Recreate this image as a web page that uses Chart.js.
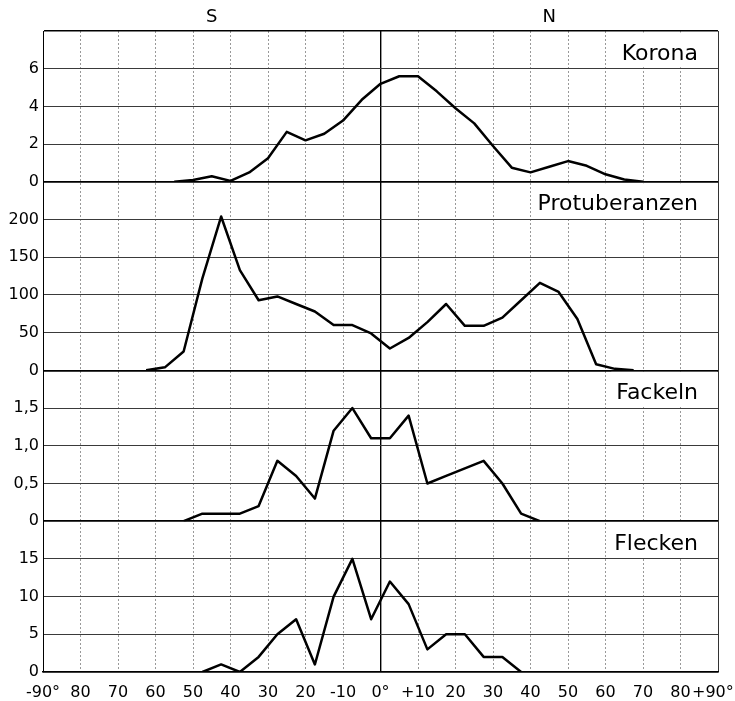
<!DOCTYPE html>
<html>
<head>
<meta charset="utf-8">
<title>Korona, Protuberanzen, Fackeln, Flecken</title>
<script src="https://cdn.jsdelivr.net/npm/chart.js@4.4.0/dist/chart.umd.min.js"></script>
<style>
body { margin: 0; background: #fff; }
</style>
</head>
<body>
<canvas id="grafico" width="735" height="701"></canvas>
<script>
// Latitud en grados (S negativo, N positivo)
var etiquetasX = ['-90°','80','70','60','50','40','30','20','-10','0°','+10','20','30','40','50','60','70','80','+90°'];

var latKorona = [-55,-50,-45,-40,-35,-30,-25,-20,-15,-10,-5,0,5,10,15,20,25,30,35,40,45,50,55,60,65,70];
var korona = [0,0.1,0.3,0.05,0.5,1.25,2.65,2.2,2.55,3.25,4.35,5.2,5.6,5.6,4.8,3.9,3.1,1.9,0.75,0.5,0.8,1.1,0.85,0.4,0.12,0];

var latProtuberanzen = [-62.5,-57.5,-52.5,-47.5,-42.5,-37.5,-32.5,-27.5,-22.5,-17.5,-12.5,-7.5,-2.5,2.5,7.5,12.5,17.5,22.5,27.5,32.5,37.5,42.5,47.5,52.5,57.5,62.5,67.5];
var protuberanzen = [0,4,25,122,204,133,93,98,88,78,60,60,49,29,43,64,88,59,59,70,93,116,104,68,8,2,0];

var latFackeln = [-52.5,-47.5,-42.5,-37.5,-32.5,-27.5,-22.5,-17.5,-12.5,-7.5,-2.5,2.5,7.5,12.5,17.5,22.5,27.5,32.5,37.5,42.5];
var fackeln = [0,0.1,0.1,0.1,0.2,0.8,0.6,0.3,1.2,1.5,1.1,1.1,1.4,0.5,0.6,0.7,0.8,0.5,0.1,0];

var latFlecken = [-47.5,-42.5,-37.5,-32.5,-27.5,-22.5,-17.5,-12.5,-7.5,-2.5,2.5,7.5,12.5,17.5,22.5,27.5,32.5,37.5];
var flecken = [0,1,0,2,5,7,1,10,15,7,12,9,3,5,5,2,2,0];

// Paneles de arriba abajo: nombre, eje, maximo y paso
var paneles = [
    { nombre: 'Korona', eje: 'yKorona', max: 8, paso: 2 },
    { nombre: 'Protuberanzen', eje: 'yProt', max: 250, paso: 50 },
    { nombre: 'Fackeln', eje: 'yFackeln', max: 2, paso: 0.5 },
    { nombre: 'Flecken', eje: 'yFlecken', max: 20, paso: 5 }
];

var fuente = 'DejaVu Sans';

function puntos(lat, valores) {
    var res = [];
    for (var i = 0; i < lat.length; i++) {
        res.push({ x: lat[i], y: valores[i] });
    }
    return res;
}

function serie(nombre, lat, valores, eje) {
    return {
        label: nombre,
        data: puntos(lat, valores),
        xAxisID: 'x',
        yAxisID: eje,
        borderColor: '#000',
        borderWidth: 2.5,
        borderJoinStyle: 'round',
        pointRadius: 0,
        tension: 0,
        fill: false
    };
}

function ejeY(panel, peso) {
    return {
        type: 'linear',
        position: 'left',
        stack: 'paneles',
        stackWeight: peso,
        min: 0,
        max: panel.max,
        afterFit: function (s) { s.width = 43; s.paddingTop = 0; s.paddingBottom = 0; },
        ticks: {
            stepSize: panel.paso,
            autoSkip: false,
            color: '#000',
            padding: 4,
            font: { family: fuente, size: 16 },
            callback: function (v) {
                if (v >= panel.max) return '';
                if (panel.paso < 1 && v !== 0) return v.toFixed(1).replace('.', ',');
                return String(v);
            }
        },
        grid: {
            drawTicks: false,
            color: function (c) { return (c.tick.value === 0 || c.tick.value === panel.max) ? '#000' : '#3a3a3a'; },
            lineWidth: function (c) { return (c.tick.value === 0 || c.tick.value === panel.max) ? 1.6 : 1; }
        },
        border: { color: '#000', width: 1 }
    };
}

var rotulos = {
    id: 'rotulos',
    beforeDatasetsDraw: function (chart) {
        var ctx = chart.ctx, area = chart.chartArea;
        ctx.save();
        ctx.font = '22px "' + fuente + '"';
        ctx.textAlign = 'right';
        ctx.textBaseline = 'middle';
        paneles.forEach(function (p) {
            var esc = chart.scales[p.eje];
            var arriba = esc.getPixelForValue(p.max);
            var abajo = esc.getPixelForValue(p.max - p.paso);
            var derecha = area.right - 20;
            var ancho = ctx.measureText(p.nombre).width;
            ctx.fillStyle = '#fff';
            ctx.fillRect(derecha - ancho - 5, arriba + 1.5, area.right - 1 - (derecha - ancho - 5), abajo - arriba - 3);
            ctx.fillStyle = '#000';
            ctx.fillText(p.nombre, derecha, (arriba + abajo) / 2 + 4);
        });
        ctx.font = '18px "' + fuente + '"';
        ctx.textAlign = 'center';
        ctx.fillText('S', chart.scales.x.getPixelForValue(-45), 17);
        ctx.fillText('N', chart.scales.x.getPixelForValue(45), 17);
        ctx.restore();
    }
};

var escalas = {
    x: {
        type: 'linear',
        min: -90,
        max: 90,
        afterFit: function (s) { s.height = 29; s.paddingLeft = 0; s.paddingRight = 0; },
        ticks: {
            stepSize: 10,
            autoSkip: false,
            maxRotation: 0,
            color: '#000',
            padding: 11,
            font: { family: fuente, size: 16 },
            callback: function (v) {
                var t = etiquetasX[Math.round((v + 90) / 10)];
                // el ultimo rotulo se corre a la izquierda para que quepa
                return v === 90 ? t + '\u00a0\u00a0' : t;
            }
        },
        grid: {
            drawTicks: false,
            color: function (c) { return c.tick.value === 0 ? '#000' : (Math.abs(c.tick.value) === 90 ? '#333' : '#999'); },
            lineWidth: function (c) { return c.tick.value === 0 ? 1.4 : 1; }
        },
        border: {
            color: '#000',
            width: 1.6,
            dash: function (c) { return (c.tick && Math.abs(c.tick.value) !== 90 && c.tick.value !== 0) ? [2, 2] : []; }
        }
    }
};
// el ultimo eje definido queda arriba
escalas.yFlecken = ejeY(paneles[3], 4);
escalas.yFackeln = ejeY(paneles[2], 4);
escalas.yProt = ejeY(paneles[1], 5);
escalas.yKorona = ejeY(paneles[0], 4);

new Chart(document.getElementById('grafico'), {
    type: 'line',
    data: {
        datasets: [
            serie('Korona', latKorona, korona, 'yKorona'),
            serie('Protuberanzen', latProtuberanzen, protuberanzen, 'yProt'),
            serie('Fackeln', latFackeln, fackeln, 'yFackeln'),
            serie('Flecken', latFlecken, flecken, 'yFlecken')
        ]
    },
    options: {
        responsive: false,
        devicePixelRatio: 1,
        animation: false,
        layout: { padding: { top: 31, right: 17, bottom: 0, left: 0 } },
        plugins: { legend: { display: false }, tooltip: { enabled: false } },
        scales: escalas
    },
    plugins: [rotulos]
});
</script>
</body>
</html>
